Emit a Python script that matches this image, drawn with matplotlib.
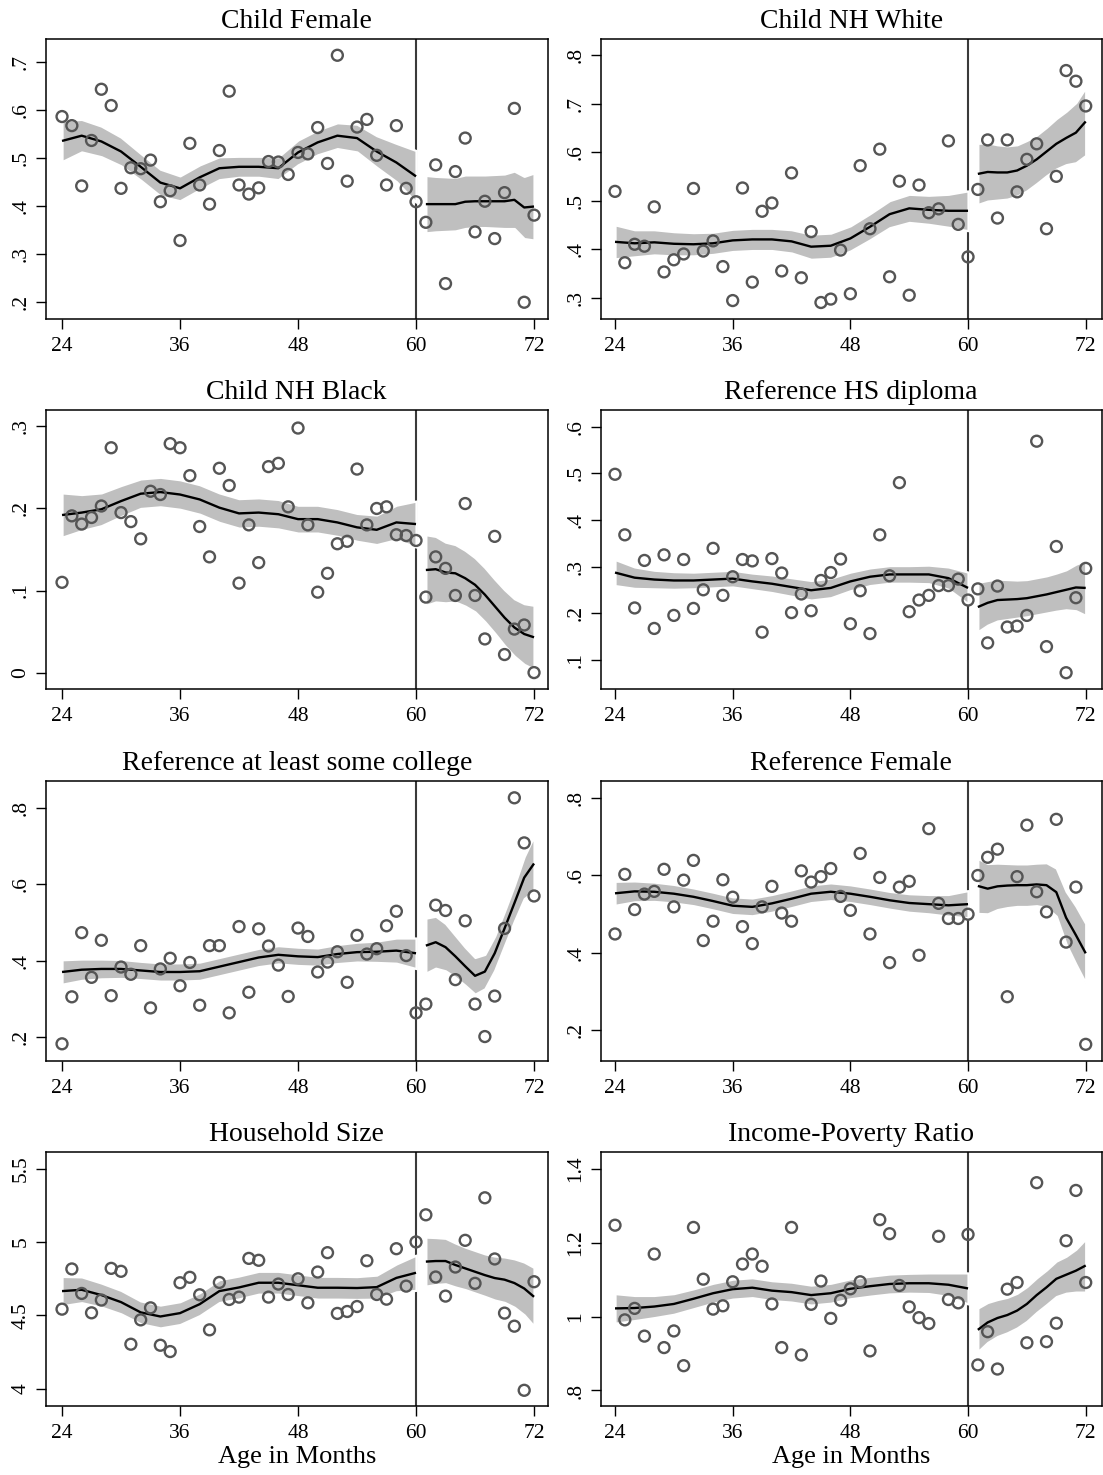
import matplotlib
matplotlib.use("Agg")
import matplotlib.pyplot as plt
from matplotlib.ticker import FuncFormatter

# ---------------- data ----------------
months = list(range(24, 73))
fit_x_left = [24, 26, 28, 30, 32, 34, 36, 38, 40, 42, 44, 46, 48, 50, 52, 54, 56, 58, 60]
fit_x_right = [61, 62, 63, 64, 65, 66, 67, 68, 69, 70, 71, 72]
x_ticks = [24, 36, 48, 60, 72]
cutoff = 60

titles = ["Child Female", "Child NH White", "Child NH Black", "Reference HS diploma",
          "Reference at least some college", "Reference Female", "Household Size",
          "Income-Poverty Ratio"]

# Child Female
cf_pts = [.587, .568, .442, .537, .644, .610, .437, .480, .478, .496,
          .409, .432, .328, .531, .444, .404, .516, .640, .444, .425,
          .438, .493, .492, .466, .512, .509, .564, .489, .715, .452,
          .565, .581, .506, .444, .568, .437, .409, .366, .486, .238,
          .472, .542, .346, .410, .332, .428, .604, .199, .381]
cf_fit_l = [.536, .547, .535, .514, .482, .449, .437, .460, .479, .482, .482, .479, .512, .533, .547, .542, .514, .491, .462]
cf_fit_r = [.404, .404, .404, .404, .409, .410, .410, .410, .410, .413, .397, .399]
cf_hw_l = [.043, .034, .032, .030, .028, .028, .026, .026, .024, .022, .022, .024, .026, .026, .027, .029, .033, .040, .054]
cf_hw_r = [.060, .058, .057, .056, .056, .055, .055, .056, .057, .060, .065, .070]
cf_yticks = [.2, .3, .4, .5, .6, .7]
cf_ylim = (.164, .749)

# Child NH White
cw_pts = [.519, .372, .410, .406, .487, .353, .378, .390, .525, .396,
          .417, .364, .294, .526, .332, .478, .495, .355, .557, .341,
          .436, .290, .297, .398, .308, .572, .442, .606, .343, .540,
          .305, .532, .475, .483, .623, .451, .384, .523, .625, .464,
          .625, .518, .585, .617, .442, .550, .768, .746, .695]
cw_fit_l = [.415, .412, .414, .411, .410, .412, .418, .420, .420, .416, .405, .407, .422, .446, .472, .484, .481, .479, .479]
cw_fit_r = [.555, .559, .558, .558, .562, .572, .585, .601, .617, .629, .640, .663]
cw_hw_l = [.035, .028, .026, .025, .024, .023, .023, .023, .023, .024, .026, .026, .026, .027, .028, .029, .030, .034, .041]
cw_hw_r = [.063, .060, .057, .055, .053, .052, .050, .050, .052, .055, .062, .070]
cw_yticks = [.3, .4, .5, .6, .7, .8]
cw_ylim = (.256, .833)

# Child NH Black
cb_pts = [.110, .191, .181, .189, .203, .274, .195, .184, .163, .221,
          .217, .279, .274, .240, .178, .141, .249, .228, .109, .180,
          .134, .251, .255, .202, .298, .180, .098, .121, .157, .160,
          .248, .180, .200, .202, .168, .167, .161, .092, .141, .127,
          .094, .206, .094, .041, .166, .022, .053, .058, .000]
cb_fit_l = [.192, .195, .199, .209, .218, .220, .217, .211, .201, .194, .195, .193, .187, .187, .183, .177, .174, .183, .181]
cb_fit_r = [.125, .126, .122, .121, .115, .107, .095, .081, .067, .055, .047, .043]
cb_hw_l = [.027, .022, .020, .019, .018, .018, .018, .018, .018, .018, .018, .018, .017, .017, .017, .017, .018, .021, .028]
cb_hw_r = [.043, .040, .037, .035, .034, .033, .033, .033, .034, .035, .037, .039]
cb_yticks = [0, .1, .2, .3]
cb_ylim = (-.020, .320)

# Reference HS diploma
hs_pts = [.498, .368, .211, .313, .167, .325, .195, .315, .210, .250,
          .339, .238, .278, .315, .312, .159, .317, .286, .201, .241,
          .205, .270, .287, .316, .177, .248, .156, .368, .280, .480,
          .203, .228, .238, .259, .259, .273, .228, .252, .136, .258,
          .170, .172, .195, .569, .128, .343, .072, .233, .296]
hs_fit_l = [.287, .276, .272, .270, .270, .272, .274, .268, .263, .256, .249, .254, .268, .278, .283, .283, .283, .275, .254]
hs_fit_r = [.213, .222, .228, .229, .230, .232, .236, .240, .245, .250, .255, .254]
hs_hw_l = [.028, .023, .020, .019, .018, .018, .018, .018, .019, .020, .021, .021, .020, .019, .019, .019, .020, .024, .034]
hs_hw_r = [.053, .048, .045, .043, .041, .040, .040, .040, .041, .043, .050, .059]
hs_yticks = [.1, .2, .3, .4, .5, .6]
hs_ylim = (.037, .636)

# Reference at least some college
sc_pts = [.182, .305, .473, .356, .453, .308, .383, .364, .439, .276,
          .378, .406, .334, .395, .283, .439, .439, .263, .489, .317,
          .483, .438, .388, .306, .485, .463, .370, .396, .423, .343,
          .466, .417, .431, .491, .529, .413, .263, .286, .545, .531,
          .350, .504, .286, .201, .307, .484, .826, .708, .569]
sc_fit_l = [.370, .376, .378, .378, .374, .370, .370, .372, .384, .396, .408, .415, .411, .409, .417, .422, .423, .426, .419]
sc_fit_r = [.439, .448, .435, .411, .385, .360, .371, .419, .484, .550, .617, .654]
sc_hw_l = [.032, .028, .026, .025, .024, .024, .024, .024, .024, .024, .024, .024, .024, .024, .025, .026, .028, .033, .040]
sc_hw_r = [.072, .068, .062, .055, .050, .048, .045, .045, .045, .047, .055, .072]
sc_yticks = [.2, .4, .6, .8]
sc_ylim = (.137, .870)

# Reference Female
rf_pts = [.448, .602, .511, .551, .558, .615, .518, .587, .638, .431,
          .481, .588, .543, .467, .423, .518, .571, .502, .481, .611,
          .582, .596, .617, .545, .509, .656, .448, .594, .374, .569,
          .584, .393, .720, .527, .488, .488, .499, .599, .646, .667,
          .286, .596, .729, .557, .505, .744, .427, .569, .163]
rf_fit_l = [.553, .558, .557, .552, .544, .533, .521, .518, .527, .539, .552, .557, .552, .544, .535, .528, .525, .522, .525]
rf_fit_r = [.572, .565, .571, .573, .574, .574, .576, .574, .556, .490, .445, .398]
rf_hw_l = [.031, .027, .025, .024, .023, .023, .023, .023, .023, .023, .023, .023, .023, .023, .023, .024, .025, .028, .035]
rf_hw_r = [.071, .065, .060, .057, .055, .055, .055, .058, .062, .068, .075, .077]
rf_yticks = [.2, .4, .6, .8]
rf_ylim = (.120, .843)

# Household Size
hh_pts = [4.542, 4.816, 4.649, 4.517, 4.604, 4.820, 4.800, 4.303, 4.469, 4.551,
          4.296, 4.253, 4.722, 4.759, 4.640, 4.401, 4.724, 4.608, 4.624, 4.888,
          4.875, 4.624, 4.713, 4.642, 4.749, 4.585, 4.795, 4.927, 4.513, 4.526,
          4.560, 4.872, 4.642, 4.610, 4.954, 4.699, 5.000, 5.185, 4.761, 4.631,
          4.829, 5.011, 4.718, 5.301, 4.884, 4.515, 4.426, 3.989, 4.729]
hh_fit_l = [4.665, 4.674, 4.638, 4.590, 4.520, 4.492, 4.515, 4.576, 4.665, 4.690, 4.722, 4.722, 4.705, 4.688, 4.688, 4.686, 4.692, 4.755, 4.790]
hh_fit_r = [4.866, 4.870, 4.870, 4.843, 4.820, 4.797, 4.774, 4.754, 4.743, 4.720, 4.683, 4.626]
hh_hw_l = [.100, .088, .082, .080, .078, .078, .078, .078, .078, .078, .078, .078, .078, .078, .078, .078, .082, .095, .120]
hh_hw_r = [.167, .160, .155, .150, .145, .145, .145, .150, .155, .165, .180, .200]
hh_yticks = [4, 4.5, 5, 5.5]
hh_ylim = (3.882, 5.613)

# Income-Poverty Ratio
ip_pts = [1.247, .991, 1.022, .947, 1.169, .916, .961, .867, 1.241, 1.101,
          1.020, 1.029, 1.094, 1.142, 1.169, 1.136, 1.034, .916, 1.241, .896,
          1.033, 1.096, .995, 1.044, 1.075, 1.094, .907, 1.262, 1.224, 1.084,
          1.026, .997, .981, 1.217, 1.046, 1.037, 1.222, .869, .959, .858,
          1.074, 1.092, .929, 1.362, .932, .982, 1.205, 1.341, 1.092]
ip_fit_l = [1.022, 1.023, 1.027, 1.034, 1.048, 1.063, 1.074, 1.078, 1.070, 1.066, 1.058, 1.063, 1.075, 1.082, 1.088, 1.090, 1.090, 1.086, 1.076]
ip_fit_r = [.964, .984, .996, 1.004, 1.016, 1.034, 1.058, 1.079, 1.102, 1.113, 1.124, 1.138]
ip_hw_l = [.040, .034, .030, .028, .027, .027, .027, .027, .027, .027, .027, .027, .027, .027, .027, .027, .028, .032, .042]
ip_hw_r = [.059, .054, .050, .048, .047, .047, .047, .047, .048, .050, .058, .072]
ip_yticks = [.8, 1, 1.2, 1.4]
ip_ylim = (.758, 1.445)

panels = [
    (cf_pts, cf_fit_l, cf_fit_r, cf_hw_l, cf_hw_r, cf_yticks, cf_ylim),
    (cw_pts, cw_fit_l, cw_fit_r, cw_hw_l, cw_hw_r, cw_yticks, cw_ylim),
    (cb_pts, cb_fit_l, cb_fit_r, cb_hw_l, cb_hw_r, cb_yticks, cb_ylim),
    (hs_pts, hs_fit_l, hs_fit_r, hs_hw_l, hs_hw_r, hs_yticks, hs_ylim),
    (sc_pts, sc_fit_l, sc_fit_r, sc_hw_l, sc_hw_r, sc_yticks, sc_ylim),
    (rf_pts, rf_fit_l, rf_fit_r, rf_hw_l, rf_hw_r, rf_yticks, rf_ylim),
    (hh_pts, hh_fit_l, hh_fit_r, hh_hw_l, hh_hw_r, hh_yticks, hh_ylim),
    (ip_pts, ip_fit_l, ip_fit_r, ip_hw_l, ip_hw_r, ip_yticks, ip_ylim),
]

# ---------------- style ----------------
plt.rcParams['font.family'] = ['Liberation Serif', 'DejaVu Serif']

W, H = 1103, 1475
fig = plt.figure(figsize=(W / 100, H / 100), dpi=100)

col_x = [(45.7, 547.7), (600.7, 1101.7)]
col_xlim = [(22.34, 73.39), (22.54, 73.63)]
row_y = [(39, 319), (410, 689), (781, 1061), (1152, 1406)]

BAND = '#bfbfbf'
PT = '#555555'


def stata_fmt(v, pos):
    s = f"{v:g}"
    if s.startswith("0."):
        s = s[1:]
    elif s.startswith("-0."):
        s = "-" + s[2:]
    return s


for i, (pts, fl, fr, hl, hr, yt, yl) in enumerate(panels):
    r, c = divmod(i, 2)
    x0, x1 = col_x[c]
    top, bot = row_y[r]
    ax = fig.add_axes([x0 / W, 1 - bot / H, (x1 - x0) / W, (bot - top) / H])

    ax.axvline(cutoff, color='#3a3a3a', lw=1.5, zorder=1)

    lo_l = [f - h for f, h in zip(fl, hl)]
    hi_l = [f + h for f, h in zip(fl, hl)]
    lo_r = [f - h for f, h in zip(fr, hr)]
    hi_r = [f + h for f, h in zip(fr, hr)]
    ax.fill_between(fit_x_left, lo_l, hi_l, facecolor=BAND, edgecolor='white', lw=1.6, zorder=2)
    ax.fill_between(fit_x_right, lo_r, hi_r, facecolor=BAND, edgecolor='white', lw=1.6, zorder=2)
    ax.plot(fit_x_left, fl, color='black', lw=1.7, zorder=3, solid_capstyle='butt')
    ax.plot(fit_x_right, fr, color='black', lw=1.7, zorder=3, solid_capstyle='butt')

    ax.scatter(months, pts, s=62, facecolors='none', edgecolors=PT, linewidths=1.7, zorder=4)

    ax.set_xlim(*col_xlim[c])
    ax.set_ylim(*yl)
    ax.set_xticks(x_ticks)
    ax.set_yticks(yt)
    ax.yaxis.set_major_formatter(FuncFormatter(stata_fmt))
    ax.tick_params(axis='both', which='major', direction='out', length=7, width=1.0,
                   labelsize=15.5, color='black')
    ax.tick_params(axis='x', pad=6)
    ax.tick_params(axis='y', pad=4, labelrotation=90)
    for lab in ax.get_yticklabels():
        lab.set_verticalalignment('center')
    for sp in ax.spines.values():
        sp.set_linewidth(1.1)
        sp.set_color('black')
    ax.set_title(titles[i], fontsize=20, pad=8)
    if r == 3:
        ax.set_xlabel("Age in Months", fontsize=19, labelpad=2)

fig.savefig("out.png", dpi=100, facecolor='white')
